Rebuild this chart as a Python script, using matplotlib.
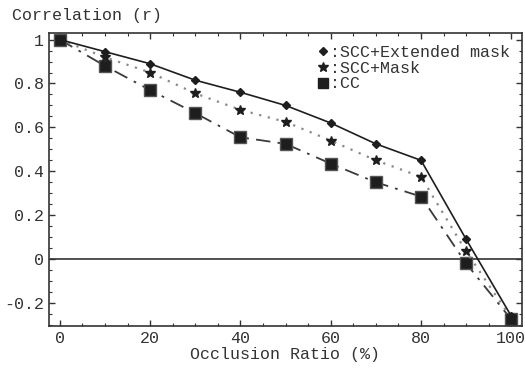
import matplotlib.pyplot as plt
from matplotlib.ticker import MultipleLocator
from matplotlib.lines import Line2D

# Datos
occlusion = [0, 10, 20, 30, 40, 50, 60, 70, 80, 90, 100]
scc_extended = [1.0, 0.945, 0.89, 0.815, 0.76, 0.70, 0.62, 0.525, 0.45, 0.09, -0.26]
scc_mask = [1.0, 0.92, 0.85, 0.755, 0.68, 0.625, 0.54, 0.45, 0.375, 0.035, -0.27]
cc = [1.0, 0.88, 0.77, 0.665, 0.555, 0.525, 0.435, 0.35, 0.285, -0.02, -0.275]

x_ticks = [0, 20, 40, 60, 80, 100]
y_ticks = [-0.2, 0, 0.2, 0.4, 0.6, 0.8, 1]
y_labels = ['-0.2', '0', '0.2', '0.4', '0.6', '0.8', '1']

plt.rcParams['font.family'] = ['Liberation Mono', 'DejaVu Sans Mono']
plt.rcParams['font.size'] = 12

tinta = '#1e1e1e'

fig = plt.figure(figsize=(5.25, 3.68), dpi=100)
ax = fig.add_axes([0.0933, 0.114, 0.9004, 0.7963])

ax.axhline(0, color='#333333', lw=1.2, zorder=1)

ax.plot(occlusion, scc_extended, color=tinta, lw=1.2, ls='-',
        marker='D', ms=4.5, mfc=tinta, mec=tinta, zorder=4)
ax.plot(occlusion, scc_mask, color='#8a8a8a', lw=1.6, ls=(0, (1, 3)),
        marker='*', ms=7, mfc=tinta, mec=tinta, zorder=3)
ax.plot(occlusion, cc, color='#3a3a3a', lw=1.3, ls=(0, (8, 4, 1.5, 4)),
        marker='s', ms=9, mfc=tinta, mec='#555555', zorder=2)

ax.set_xlim(-2.4, 102.3)
ax.set_ylim(-0.305, 1.03)
ax.set_xticks(x_ticks)
ax.set_yticks(y_ticks)
ax.set_yticklabels(y_labels)
ax.xaxis.set_minor_locator(MultipleLocator(5))
ax.yaxis.set_minor_locator(MultipleLocator(0.05))
ax.tick_params(which='both', direction='in', top=True, right=True,
               colors='#333333', labelcolor='#333333')
ax.tick_params(which='major', length=4, width=1)
ax.tick_params(which='minor', length=2, width=0.8)
for s in ax.spines.values():
    s.set_color('#333333')
    s.set_linewidth(1.2)

ax.set_xlabel('Occlusion Ratio (%)', color='#333333', labelpad=1)
fig.text(0.022, 0.958, 'Correlation (r)', color='#333333', va='center')

handles = [
    Line2D([], [], ls='none', marker='D', ms=4.5, color=tinta),
    Line2D([], [], ls='none', marker='*', ms=7, color=tinta),
    Line2D([], [], ls='none', marker='s', ms=7, color=tinta),
]
ax.legend(handles, [':SCC+Extended mask', ':SCC+Mask', ':CC'],
          loc='upper right', frameon=False, handlelength=0.6,
          handletextpad=0.1, labelspacing=0.05, borderaxespad=0.3,
          labelcolor='#333333')

fig.savefig('out.png', dpi=100)
